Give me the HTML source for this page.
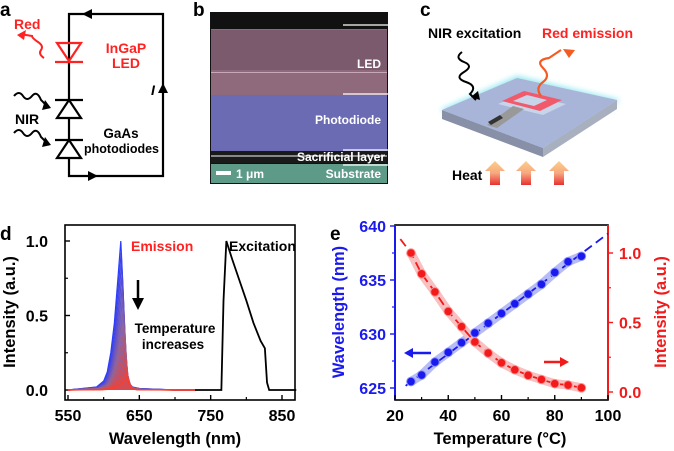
<!DOCTYPE html>
<html><head><meta charset="utf-8"><style>
body{margin:0;background:#fff}
svg{display:block;font-family:"Liberation Sans",Arial,sans-serif;font-weight:bold}
</style></head><body>
<svg id="fig" width="674" height="451" viewBox="0 0 674 451">
<defs>
<linearGradient id="heatg" x1="0" y1="1" x2="0" y2="0"><stop offset="0" stop-color="#e83030"/><stop offset="0.5" stop-color="#f8a880"/><stop offset="1" stop-color="#fbd08a"/></linearGradient>
<filter id="glow"><feGaussianBlur stdDeviation="3"/></filter>
</defs>
<text x="0" y="16" font-size="19">a</text>
<text x="193" y="16" font-size="19">b</text>
<text x="420" y="16" font-size="19">c</text>
<text x="0" y="240" font-size="19">d</text>
<text x="330" y="240" font-size="19">e</text>

<g stroke="#000" stroke-width="2.2" fill="none">
<polyline points="69,100 69,14 163,14 163,176 69,176 69,158" />
<line x1="69" y1="118" x2="69" y2="140"/>
<line x1="55" y1="100" x2="83" y2="100"/>
<polygon points="69,100 57,118 81,118"/>
<line x1="55" y1="140" x2="83" y2="140"/>
<polygon points="69,140 57,158 81,158"/>
<polygon points="57,43 81,43 69,61" stroke="#f22"/>
<line x1="55" y1="62" x2="83" y2="62" stroke="#f22"/>
<path d="M14,96 q5,-6 9,0 t9,0 t9,4 l8,8" stroke-width="2"/>
<path d="M14,133 q5,-6 9,0 t9,0 t9,4 l8,8" stroke-width="2"/>
<path d="M44,58 q-6,-4 -3,-8 t-3,-8 t-6,-6 l-12,-2" stroke="#f22" stroke-width="2"/>
</g>
<g fill="#000">
<polygon points="82,14 92,9 92,19"/>
<polygon points="98,176 88,171 88,181"/>
<polygon points="163,83 158,93 168,93"/>
<polygon points="51,108 45,100 42,110"/>
<polygon points="51,145 45,137 42,147"/>
<polygon points="17,35 26,30 24,40" fill="#f22"/>
</g>
<text x="151" y="95" font-size="14" font-style="italic">I</text>
<text x="14" y="29" font-size="14" fill="#f22">Red</text>
<text x="126" y="53" font-size="14" fill="#f22" text-anchor="middle">InGaP</text>
<text x="126" y="68" font-size="14" fill="#f22" text-anchor="middle">LED</text>
<text x="15" y="124" font-size="14">NIR</text>
<text x="121" y="138" font-size="13.5" text-anchor="middle">GaAs</text>
<text x="84" y="153" font-size="12.5">photodiodes</text>

<g>
<rect x="210" y="12" width="178" height="172" fill="#111"/>
<rect x="211" y="29" width="176" height="66" fill="#8e6a7c"/>
<rect x="211" y="30" width="176" height="40" fill="#7a5a6c"/>
<rect x="211" y="72" width="176" height="1" fill="#c8a8b8"/>
<rect x="211" y="95" width="176" height="56" fill="#6b6bb4"/>
<rect x="211" y="151" width="176" height="12" fill="#1a1a1a"/>
<rect x="211" y="155" width="176" height="2" fill="#888"/>
<rect x="211" y="164" width="176" height="19" fill="#5e9a88"/>
<g stroke="#fff" stroke-width="1.2"><line x1="343" y1="25" x2="388" y2="25"/><line x1="343" y1="94" x2="388" y2="94"/><line x1="343" y1="150" x2="388" y2="150"/><line x1="343" y1="165" x2="388" y2="165"/></g>
<rect x="216" y="171" width="15" height="4" fill="#fff"/>
<text x="236" y="178" font-size="12" fill="#fff">1 μm</text>
<text x="381" y="68" font-size="12" fill="#fff" text-anchor="end">LED</text>
<text x="381" y="124" font-size="12" fill="#fff" text-anchor="end">Photodiode</text>
<text x="385" y="161" font-size="12" fill="#fff" text-anchor="end">Sacrificial layer</text>
<text x="381" y="178" font-size="12" fill="#fff" text-anchor="end">Substrate</text>
</g>

<text x="428" y="38" font-size="14">NIR excitation</text>
<text x="542" y="38" font-size="14" fill="#f22">Red emission</text>
<g>
<polygon points="440,110 517,76 620,100 543,150" fill="#8fe8f0" filter="url(#glow)"/>
<polygon points="442,110 543,148 543,157 442,119" fill="#8890a8"/>
<polygon points="543,148 617,100 617,109 543,157" fill="#a8b0c0"/>
<polygon points="442,110 517,78 617,100 543,148" fill="#a8b4d8"/>
<polygon points="498,104 521,94 566,104 543,115" fill="#c8d4ea"/>
<polygon points="502,101 524,91 562,100 540,111" fill="#f05a6a"/>
<polygon points="513,101 527,95 547,100 534,106" fill="#c8d4ea"/>
<polygon points="487,125 513,106 524,109 497,128" fill="#999"/>
<polygon points="488,122 500,115 503,118 491,125" fill="#333"/>
<path d="M462,52 q-8,6 2,10 t0,10 t2,10 t4,12 l6,6" stroke="#000" stroke-width="2" fill="none"/>
<polygon points="480,100 471,97 478,91" fill="#000"/>
<path d="M541,96 q-6,-8 2,-14 t0,-14 t6,-10 l12,-8" stroke="#f55a20" stroke-width="2.2" fill="none"/>
<polygon points="575,50 563,49 569,58" fill="#f55a20"/>
<path d="M490,185 v-14 h-5 l10,-10 l10,10 h-5 v14 z" fill="url(#heatg)"/>
<path d="M521,185 v-14 h-5 l10,-10 l10,10 h-5 v14 z" fill="url(#heatg)"/>
<path d="M554,185 v-14 h-5 l10,-10 l10,10 h-5 v14 z" fill="url(#heatg)"/>
</g>
<text x="452" y="180" font-size="14">Heat</text>

<g id="pd"></g>
<g id="pe"></g>
</svg>
<script>
// ---- panel d data ----
const dTicksX=[550,650,750,850];
const dTicksY=[0.0,0.5,1.0];
const emWl=[550,590,600,605,610,615,620,624,627,630,635,640,650,700,728];
const emShape=[0,0.02,0.06,0.12,0.25,0.45,0.75,1.0,0.7,0.2,0.05,0.02,0.01,0,0];
const emPeaks=[1.0,0.92,0.84,0.76,0.68,0.6,0.52,0.45,0.38,0.32,0.26,0.2,0.15,0.11,0.08];
const emShift=[0,0.5,1,1.5,2,2.5,3,3.5,4,4.5,5,5.5,6,7,8];
const exWl=[728,765,768,772,780,790,800,810,820,826,829,832,870];
const exVal=[0,0,0.6,1.0,0.88,0.74,0.6,0.45,0.33,0.28,0.05,0,0];
// ---- panel e data ----
const temps=[26,30,35,40,45,50,55,60,65,70,75,80,85,90];
const wavelengths=[625.6,626.2,627.4,628.3,629.2,630.1,631.0,631.9,632.8,633.7,634.6,635.7,636.7,637.2];
const intensities=[1.0,0.85,0.72,0.58,0.47,0.36,0.28,0.21,0.16,0.12,0.09,0.06,0.05,0.03];
const eTicksX=[20,40,60,80,100];
const eTicksYL=[625,630,635,640];
const eTicksYR=[0.0,0.5,1.0];

const NS="http://www.w3.org/2000/svg";
function mk(p,t,a){const e=document.createElementNS(NS,t);for(const k in a)e.setAttribute(k,a[k]);p.appendChild(e);return e;}
const pd=document.getElementById('pd');
const dx=v=>68+(v-550)*(214/300);
const dy=v=>390-v*149;
const fr=mk(pd,'rect',{x:65,y:225,width:230,height:175,fill:'none',stroke:'#000','stroke-width':1.6});


dTicksX.forEach(v=>{mk(pd,'line',{x1:dx(v),y1:400,x2:dx(v),y2:395,stroke:'#000','stroke-width':1.4});
 if(v<850)mk(pd,'line',{x1:dx(v+50),y1:400,x2:dx(v+50),y2:397,stroke:'#000','stroke-width':1.2});
 const t=mk(pd,'text',{x:dx(v),y:421,'font-size':16,'text-anchor':'middle'});t.textContent=v;
 
 });
dTicksY.forEach(v=>{mk(pd,'line',{x1:65,y1:dy(v),x2:70,y2:dy(v),stroke:'#000','stroke-width':1.4});
 if(v<1)mk(pd,'line',{x1:65,y1:dy(v+0.25),x2:68,y2:dy(v+0.25),stroke:'#000','stroke-width':1.2});
 const t=mk(pd,'text',{x:48,y:dy(v)+6,'font-size':16,'text-anchor':'end'});t.textContent=v.toFixed(1);
 
 });
let t=mk(pd,'text',{x:175,y:444,'font-size':16.5,'text-anchor':'middle'});t.textContent='Wavelength (nm)';


t=mk(pd,'text',{x:15,y:312,'font-size':16.5,'text-anchor':'middle',transform:'rotate(-90 15 312)'});t.textContent='Intensity (a.u.)';


let ep=exWl.map((w,i)=>dx(w)+','+dy(exVal[i])).join(' ');
let l=mk(pd,'polyline',{points:ep,fill:'none',stroke:'#000','stroke-width':1.8});


emPeaks.forEach((pk,j)=>{const f=j/(emPeaks.length-1);
 const r=Math.round(40+215*f),g=Math.round(40+40*(1-Math.abs(f-0.5)*2)+20),b=Math.round(255-215*f);
 const pts=emWl.map((w,i)=>dx(w+(i>0&&i<emWl.length-2?emShift[j]:0))+','+dy(emShape[i]*pk)).join(' ');
 const c=mk(pd,'polyline',{points:pts,fill:`rgba(${r},${g},${b},0.25)`,stroke:`rgb(${r},${g},${b})`,'stroke-width':1.2});
 
 });
t=mk(pd,'text',{x:131,y:251,'font-size':14,fill:'#f22'});t.textContent='Emission';

t=mk(pd,'text',{x:229,y:251,'font-size':14});t.textContent='Excitation';

t=mk(pd,'text',{x:175,y:333,'font-size':13.5,'text-anchor':'middle'});t.textContent='Temperature';

t=mk(pd,'text',{x:173,y:349,'font-size':13.5,'text-anchor':'middle'});t.textContent='increases';

mk(pd,'line',{x1:138,y1:280,x2:138,y2:300,stroke:'#000','stroke-width':2.5});
mk(pd,'polygon',{points:'132,298 144,298 138,310',fill:'#000'});

const pe=document.getElementById('pe');
const ex=v=>395+(v-20)*(213/80);
const eyL=v=>388-(v-625)*(162/15);
const eyR=v=>392-v*139;
const BL='#1a1aee',RD='#f21a1a';
const f2=mk(pe,'rect',{x:395,y:225,width:213,height:175,fill:'none',stroke:'#000','stroke-width':1.6});

mk(pe,'line',{x1:395,y1:225,x2:395,y2:400,stroke:BL,'stroke-width':2});
mk(pe,'line',{x1:608,y1:225,x2:608,y2:400,stroke:RD,'stroke-width':2});
eTicksX.forEach(v=>{mk(pe,'line',{x1:ex(v),y1:400,x2:ex(v),y2:395,stroke:'#000','stroke-width':1.4});
 if(v<100)mk(pe,'line',{x1:ex(v+10),y1:400,x2:ex(v+10),y2:397,stroke:'#000','stroke-width':1.2});
 const t=mk(pe,'text',{x:ex(v),y:421,'font-size':16,'text-anchor':'middle'});t.textContent=v;
 });
eTicksYL.forEach(v=>{mk(pe,'line',{x1:390,y1:eyL(v),x2:395,y2:eyL(v),stroke:BL,'stroke-width':1.4});
 if(v<640)mk(pe,'line',{x1:392,y1:eyL(v+2.5),x2:395,y2:eyL(v+2.5),stroke:BL,'stroke-width':1.2});
 const t=mk(pe,'text',{x:386,y:eyL(v)+6,'font-size':16,'text-anchor':'end',fill:BL});t.textContent=v;
 });
eTicksYR.forEach(v=>{mk(pe,'line',{x1:608,y1:eyR(v),x2:613,y2:eyR(v),stroke:RD,'stroke-width':1.4});
 if(v<1)mk(pe,'line',{x1:608,y1:eyR(v+0.25),x2:611,y2:eyR(v+0.25),stroke:RD,'stroke-width':1.2});
 const t=mk(pe,'text',{x:619,y:eyR(v)+6,'font-size':16,fill:RD});t.textContent=v.toFixed(1);
 });
t=mk(pe,'text',{x:500,y:444,'font-size':16.5,'text-anchor':'middle'});t.textContent='Temperature (°C)';

t=mk(pe,'text',{x:344,y:312,'font-size':16.5,'text-anchor':'middle',fill:BL,transform:'rotate(-90 344 312)'});t.textContent='Wavelength (nm)';

t=mk(pe,'text',{x:666,y:312,'font-size':16.5,'text-anchor':'middle',fill:RD,transform:'rotate(-90 666 312)'});t.textContent='Intensity (a.u.)';

mk(pe,'polyline',{points:temps.map((v,i)=>ex(v)+','+eyL(wavelengths[i])).join(' '),fill:'none',stroke:'#b8bcf4','stroke-width':9,'stroke-linecap':'round'});
mk(pe,'polyline',{points:temps.map((v,i)=>ex(v)+','+eyR(intensities[i])).join(' '),fill:'none',stroke:'#f8c0c0','stroke-width':9,'stroke-linecap':'round'});
l=mk(pe,'line',{x1:ex(24),y1:eyL(625.2),x2:ex(100),y2:eyL(639.3),stroke:BL,'stroke-width':1.8,'stroke-dasharray':'9,5'});

l=mk(pe,'polyline',{points:[[22,1.1]].concat(temps.map((v,i)=>[v,intensities[i]])).concat([[92,0.02]]).map(p=>ex(p[0])+','+eyR(p[1])).join(' '),fill:'none',stroke:RD,'stroke-width':1.8,'stroke-dasharray':'9,5'});

temps.forEach((v,i)=>{let c=mk(pe,'circle',{cx:ex(v),cy:eyL(wavelengths[i]),r:4.3,fill:BL,stroke:'#8890ff','stroke-width':1});
 
 c=mk(pe,'circle',{cx:ex(v),cy:eyR(intensities[i]),r:4.3,fill:RD,stroke:'#ff9090','stroke-width':1});
 });
mk(pe,'line',{x1:410,y1:353,x2:431,y2:353,stroke:BL,'stroke-width':2.5});
mk(pe,'polygon',{points:'404,353 413,348 413,358',fill:BL});
mk(pe,'line',{x1:544,y1:362,x2:562,y2:362,stroke:RD,'stroke-width':2.5});
mk(pe,'polygon',{points:'569,362 560,357 560,367',fill:RD});
</script>
</body></html>
